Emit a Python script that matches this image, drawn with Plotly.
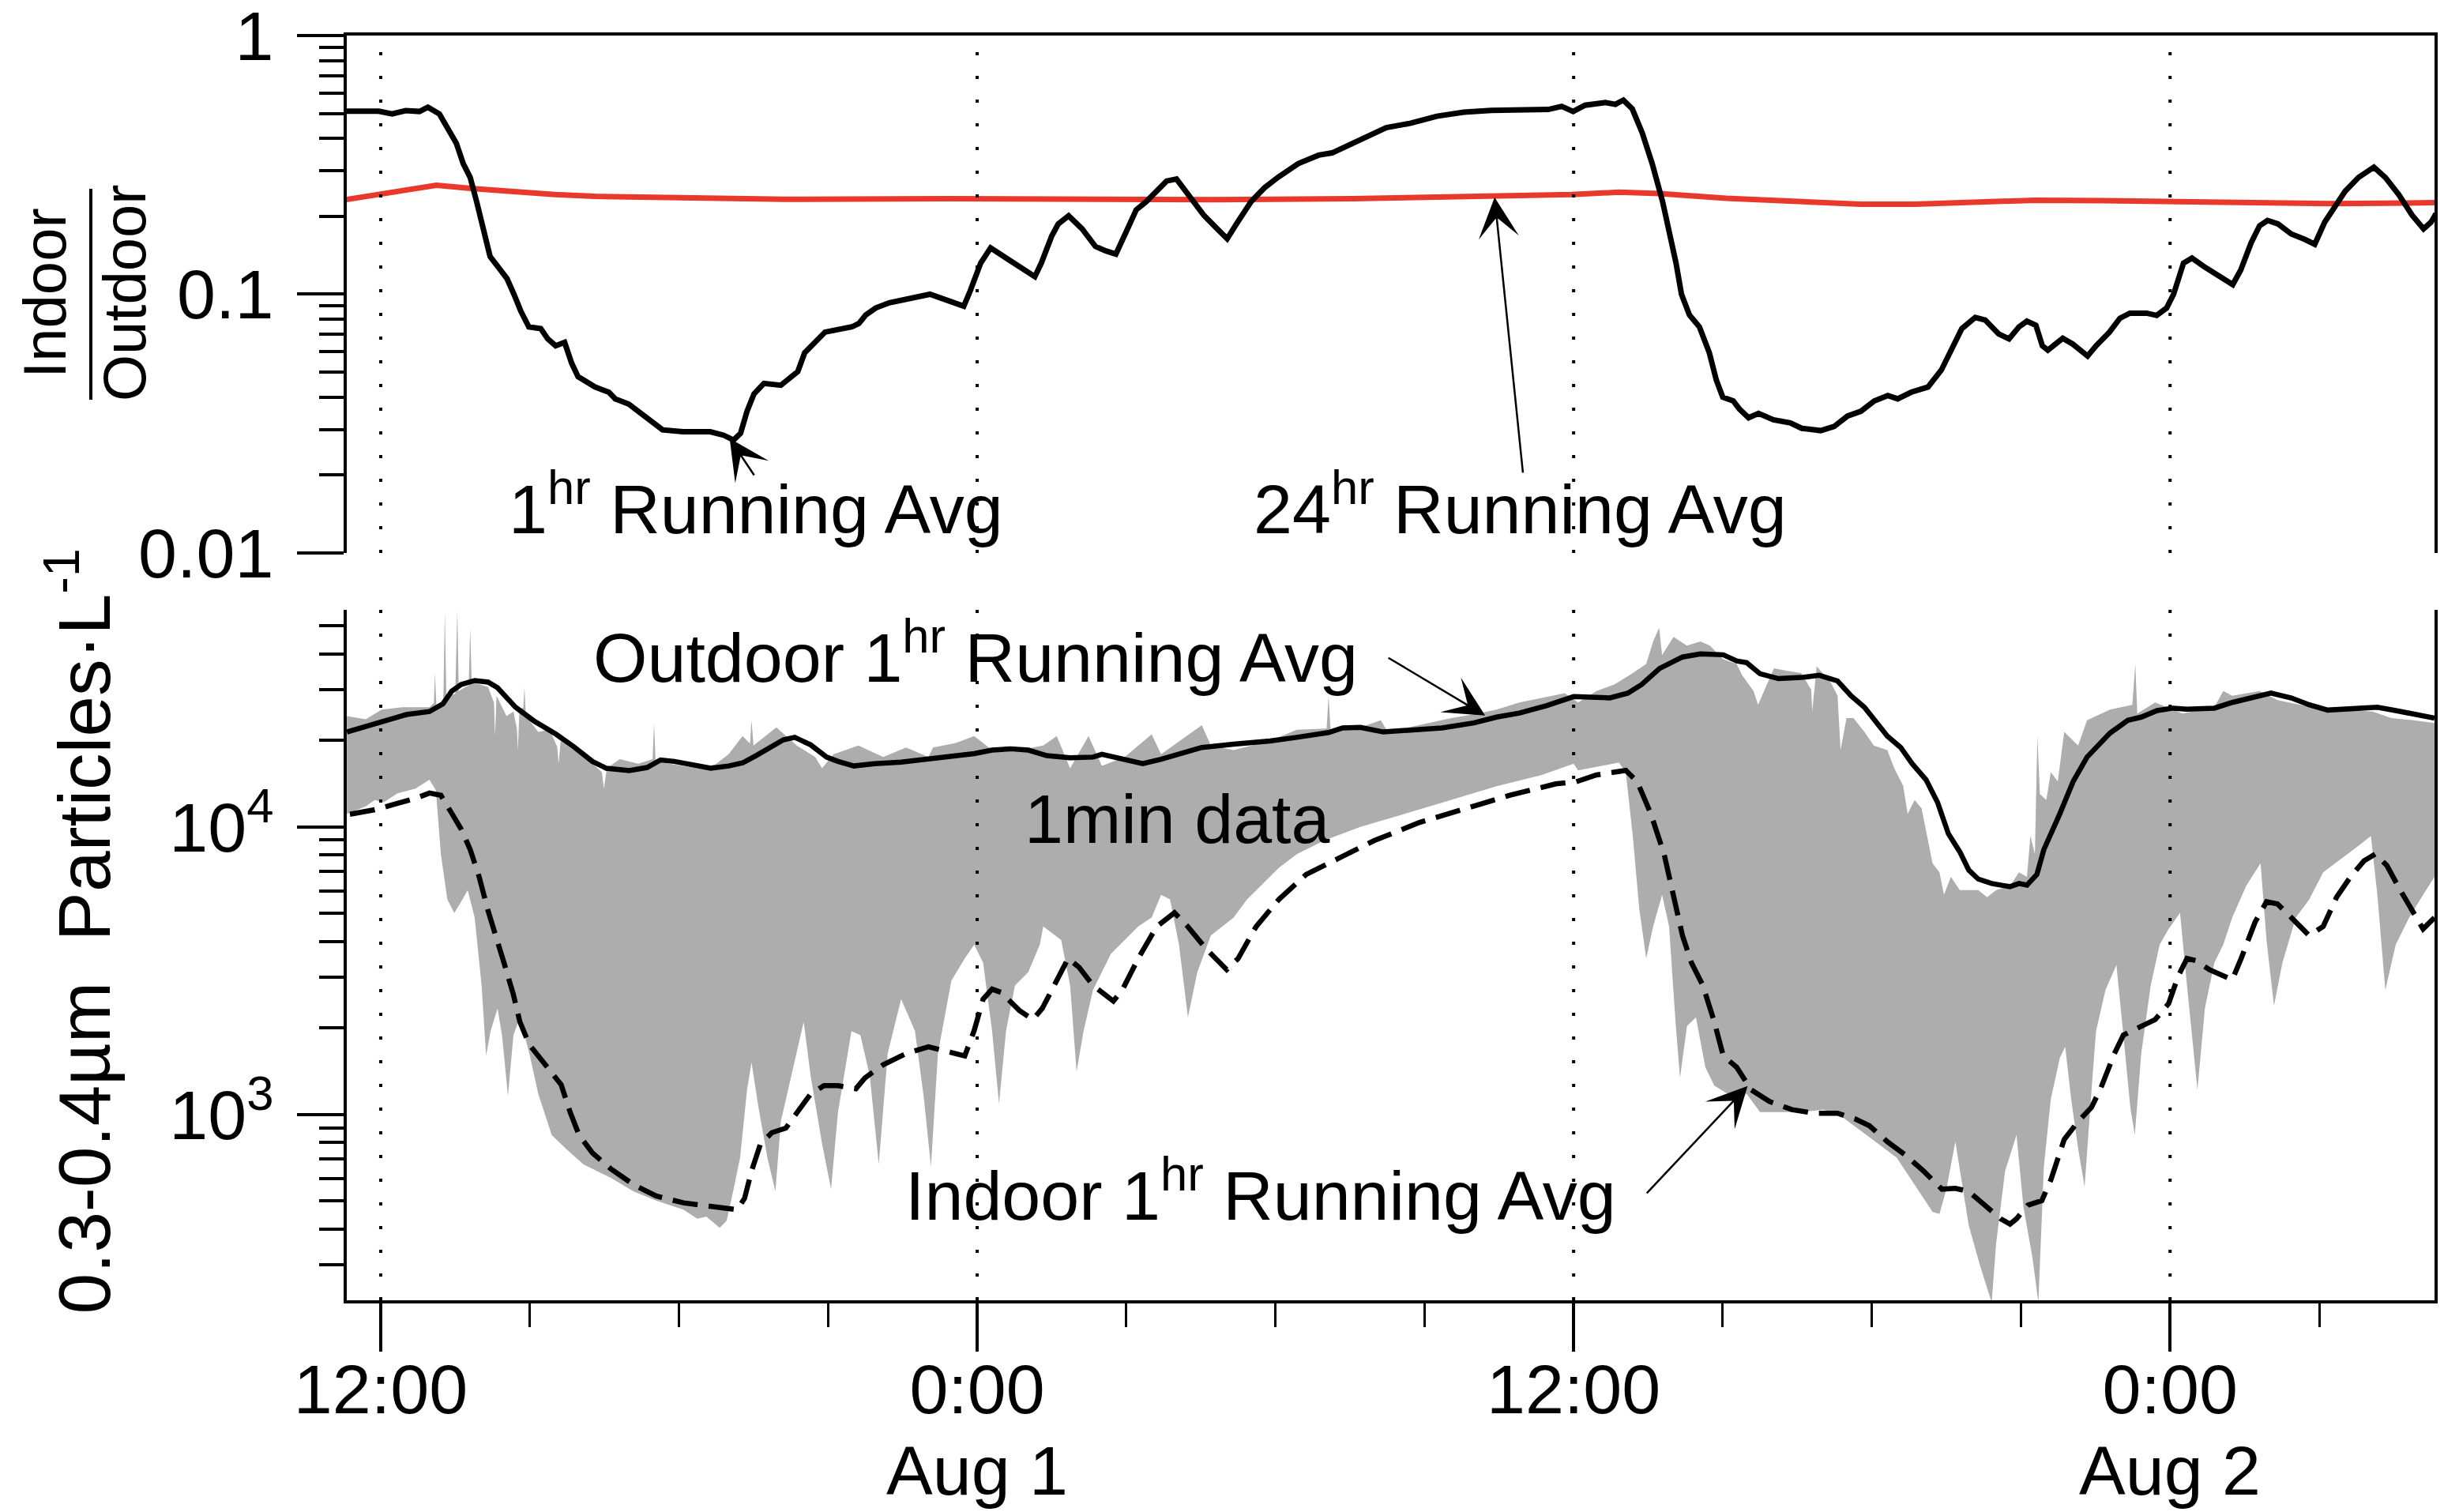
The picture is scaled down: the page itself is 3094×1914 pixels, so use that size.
import numpy as np
import plotly.graph_objects as go
from datetime import datetime, timedelta

# ---------------------------------------------------------------------------
# Data: time is given in hours after 31 Jul 00:00
# ---------------------------------------------------------------------------
T0 = datetime(2012, 7, 31)

# Indoor/Outdoor ratio, 1 hr running average
RATIO_1H = [
    (11.28, 0.510), (11.96, 0.510), (12.23, 0.498), (12.50, 0.513), (12.78, 0.509),
    (12.95, 0.529), (13.18, 0.498), (13.32, 0.448), (13.52, 0.384), (13.66, 0.320),
    (13.80, 0.283), (13.93, 0.228), (14.07, 0.173), (14.20, 0.140), (14.41, 0.124),
    (14.54, 0.115), (14.68, 0.100), (14.82, 0.0859), (14.98, 0.0748), (15.22, 0.0736),
    (15.36, 0.0672), (15.52, 0.0632), (15.70, 0.0652), (15.84, 0.0542), (15.97, 0.0480),
    (16.31, 0.0438), (16.59, 0.0418), (16.72, 0.0394), (16.99, 0.0376), (17.27, 0.0343),
    (17.54, 0.0313), (17.67, 0.0299), (18.08, 0.0294), (18.63, 0.0294), (18.90, 0.0285),
    (19.10, 0.0273), (19.24, 0.0290), (19.37, 0.0353), (19.51, 0.0412), (19.71, 0.0452),
    (20.05, 0.0445), (20.19, 0.0466), (20.39, 0.0502), (20.53, 0.0594), (20.73, 0.0652),
    (20.94, 0.0714), (21.48, 0.0748), (21.62, 0.0771), (21.76, 0.0832), (21.96, 0.0885),
    (22.23, 0.0927), (22.71, 0.0970), (23.05, 0.100), (23.25, 0.0970), (23.52, 0.0927),
    (23.73, 0.0899), (23.86, 0.103), (24.07, 0.132), (24.27, 0.151), (24.54, 0.140),
    (24.88, 0.126), (25.16, 0.117), (25.29, 0.132), (25.50, 0.168), (25.63, 0.187),
    (25.84, 0.201), (26.11, 0.179), (26.38, 0.153), (26.59, 0.147), (26.79, 0.143),
    (26.99, 0.173), (27.20, 0.212), (27.40, 0.228), (27.61, 0.250), (27.81, 0.274),
    (28.01, 0.279), (28.29, 0.235), (28.56, 0.202), (28.83, 0.179), (29.03, 0.164),
    (29.24, 0.190), (29.51, 0.228), (29.78, 0.258), (30.05, 0.283), (30.46, 0.320),
    (30.87, 0.345), (31.14, 0.352), (31.55, 0.384), (31.96, 0.415), (32.23, 0.441),
    (32.71, 0.458), (33.25, 0.488), (33.79, 0.506), (34.34, 0.514), (35.49, 0.518),
    (35.76, 0.533), (35.99, 0.509), (36.23, 0.538), (36.64, 0.551), (36.84, 0.542),
    (37.00, 0.563), (37.18, 0.521), (37.38, 0.421), (37.58, 0.320), (37.79, 0.228),
    (37.92, 0.179), (38.06, 0.132), (38.17, 0.100), (38.33, 0.0832), (38.53, 0.0748),
    (38.73, 0.0594), (38.87, 0.0466), (39.00, 0.0400), (39.21, 0.0387), (39.34, 0.0359),
    (39.52, 0.0333), (39.72, 0.0346), (40.02, 0.0327), (40.36, 0.0318), (40.59, 0.0303),
    (40.97, 0.0297), (41.24, 0.0308), (41.51, 0.0338), (41.78, 0.0353), (42.05, 0.0387),
    (42.32, 0.0406), (42.52, 0.0394), (42.79, 0.0418), (43.13, 0.0438), (43.40, 0.0510),
    (43.60, 0.0614), (43.81, 0.0736), (44.08, 0.0813), (44.28, 0.0795), (44.55, 0.0703),
    (44.76, 0.0672), (44.96, 0.0748), (45.12, 0.0787), (45.30, 0.0759), (45.43, 0.0632),
    (45.54, 0.0608), (45.70, 0.0642), (45.84, 0.0676), (46.04, 0.0642), (46.34, 0.0577),
    (46.51, 0.0632), (46.78, 0.0714), (46.99, 0.0807), (47.19, 0.0845), (47.53, 0.0845),
    (47.73, 0.0828), (47.93, 0.0885), (48.07, 0.100), (48.27, 0.132), (48.44, 0.138),
    (48.68, 0.128), (49.02, 0.117), (49.26, 0.109), (49.42, 0.124), (49.63, 0.158),
    (49.80, 0.184), (49.96, 0.193), (50.17, 0.187), (50.44, 0.171), (50.71, 0.163),
    (50.91, 0.156), (51.11, 0.190), (51.32, 0.221), (51.52, 0.250), (51.79, 0.283),
    (52.10, 0.310), (52.33, 0.283), (52.60, 0.243), (52.87, 0.202), (53.10, 0.179),
    (53.25, 0.190), (53.35, 0.205),
]

# Indoor/Outdoor ratio, 24 hr running average
RATIO_24H = [
    (11.28, 0.232), (11.96, 0.243), (12.50, 0.252), (13.12, 0.264), (13.86, 0.256),
    (14.68, 0.249), (15.50, 0.243), (16.31, 0.239), (18.22, 0.237), (20.12, 0.233),
    (23.39, 0.234), (26.11, 0.233), (28.83, 0.232), (31.55, 0.234), (34.34, 0.239),
    (35.96, 0.243), (36.91, 0.248), (37.72, 0.245), (39.07, 0.235), (40.42, 0.228),
    (41.78, 0.223), (42.86, 0.223), (44.21, 0.228), (45.30, 0.231), (46.65, 0.230),
    (48.27, 0.227), (49.90, 0.224), (51.25, 0.224), (53.35, 0.226),
]

# Outdoor 0.3-0.4 um particles per litre, 1 hr running average
OUTDOOR_1H = [
    (11.32, 21400), (11.70, 22400), (12.06, 23500), (12.52, 24600), (12.98, 25200),
    (13.25, 26800), (13.43, 29700), (13.62, 31300), (13.89, 32300), (14.16, 31900),
    (14.35, 30500), (14.53, 28100), (14.71, 26100), (15.08, 23400), (15.53, 21000),
    (15.90, 18900), (16.26, 16900), (16.54, 16000), (17.00, 15700), (17.36, 16100),
    (17.63, 17100), (17.91, 16900), (18.27, 16400), (18.64, 16000), (19.00, 16300),
    (19.28, 16700), (19.55, 17700), (19.83, 18900), (20.10, 20100), (20.33, 20500),
    (20.65, 19300), (20.97, 17500), (21.20, 16900), (21.52, 16300), (21.93, 16600),
    (22.47, 16800), (23.02, 17200), (23.48, 17700), (23.94, 18000), (24.30, 18500),
    (24.67, 18700), (25.03, 18500), (25.40, 17700), (25.87, 17400), (26.33, 17500),
    (26.51, 17900), (26.78, 17400), (27.33, 16600), (27.70, 17200), (28.06, 17900),
    (28.52, 18900), (29.16, 19400), (29.89, 19900), (30.43, 20500), (31.07, 21300),
    (31.35, 22100), (31.71, 22200), (32.17, 21400), (32.62, 21600), (33.35, 22100),
    (33.99, 23000), (34.45, 24100), (34.91, 24900), (35.45, 26400), (36.00, 28400),
    (36.73, 28100), (37.09, 29200), (37.37, 31300), (37.73, 35600), (38.19, 39000),
    (38.55, 40000), (39.01, 39700), (39.28, 37800), (39.48, 37300), (39.75, 34100),
    (40.12, 32800), (40.58, 33100), (40.94, 33700), (41.31, 32200), (41.58, 28600),
    (41.85, 26100), (42.04, 23700), (42.31, 20700), (42.58, 18900), (42.81, 16600),
    (43.09, 14600), (43.32, 12200), (43.54, 9470), (43.77, 8190), (43.95, 7080),
    (44.14, 6590), (44.41, 6360), (44.78, 6200), (44.96, 6360), (45.12, 6280),
    (45.32, 6840), (45.46, 8340), (45.78, 11100), (46.05, 14400), (46.33, 17500),
    (46.79, 21200), (47.15, 23500), (47.42, 24100), (47.74, 25400), (48.06, 25900),
    (48.34, 25700), (48.89, 25900), (49.25, 27100), (49.71, 28300), (50.03, 29200),
    (50.44, 28100), (50.80, 26600), (51.17, 25500), (51.53, 25700), (52.17, 26100),
    (52.54, 25400), (52.90, 24600), (53.32, 23900),
]

# Indoor 0.3-0.4 um particles per litre, 1 hr running average
INDOOR_1H = [
    (11.38, 11070), (11.88, 11480), (12.34, 12080), (12.70, 12570), (12.98, 13120),
    (13.21, 12890), (13.43, 11150), (13.62, 9820), (13.80, 8340), (13.98, 6710),
    (14.16, 5110), (14.30, 4190), (14.48, 3370), (14.67, 2610), (14.80, 2100),
    (14.99, 1750), (15.21, 1570), (15.44, 1390), (15.63, 1270), (15.81, 1020),
    (15.99, 849), (16.26, 735), (16.63, 647), (17.09, 570), (17.54, 521),
    (18.09, 493), (18.46, 484), (18.91, 476), (19.17, 467), (19.32, 511),
    (19.46, 636), (19.64, 790), (19.87, 865), (20.15, 897), (20.37, 1020),
    (20.65, 1180), (20.92, 1260), (21.20, 1260), (21.56, 1230), (21.74, 1340),
    (22.11, 1490), (22.57, 1630), (23.02, 1720), (23.39, 1660), (23.75, 1600),
    (23.94, 1960), (24.12, 2520), (24.30, 2730), (24.48, 2660), (24.85, 2300),
    (25.12, 2140), (25.31, 2340), (25.60, 2920), (25.83, 3490), (26.05, 3250),
    (26.33, 2810), (26.74, 2480), (26.92, 2710), (27.24, 3490), (27.61, 4500),
    (27.97, 5030), (28.24, 4500), (28.61, 3760), (29.02, 3190), (29.25, 3490),
    (29.61, 4500), (30.07, 5600), (30.62, 6840), (31.26, 7760), (31.99, 8970),
    (32.90, 10370), (33.81, 11560), (34.72, 12890), (35.64, 14120), (36.05, 14360),
    (36.46, 15170), (36.82, 15560), (37.05, 15730), (37.28, 14360), (37.55, 11150),
    (37.82, 8050), (38.01, 5810), (38.19, 4190), (38.37, 3370), (38.60, 2810),
    (38.83, 2100), (39.01, 1600), (39.28, 1460), (39.47, 1310), (39.57, 1220),
    (39.94, 1110), (40.39, 1040), (40.85, 1010), (41.31, 1010), (41.67, 964),
    (41.95, 914), (42.31, 805), (42.68, 722), (43.04, 636), (43.41, 550),
    (43.68, 554), (43.95, 540), (44.32, 476), (44.59, 434), (44.78, 416),
    (44.91, 434), (45.14, 484), (45.42, 502), (45.60, 592), (45.87, 819),
    (46.15, 946), (46.42, 1060), (46.61, 1240), (46.88, 1630), (47.06, 1890),
    (47.42, 2030), (47.70, 2140), (47.97, 2430), (48.16, 3020), (48.34, 3490),
    (48.52, 3430), (48.79, 3190), (49.07, 3020), (49.25, 2940), (49.43, 3490),
    (49.71, 4670), (49.94, 5500), (50.16, 5400), (50.44, 4840), (50.80, 4190),
    (51.08, 4510), (51.35, 5700), (51.63, 6710), (51.90, 7620), (52.13, 8050),
    (52.36, 7350), (52.63, 6030), (52.90, 5020), (53.09, 4420), (53.32, 4840),
]

# 1 min data: upper edge of the band (outdoor readings)
RAW_HIGH = [
    (11.32, 24300), (11.70, 23700), (12.02, 25600), (12.43, 26100), (12.98, 26100),
    (13.07, 27000), (13.09, 34300), (13.12, 26600), (13.26, 27500), (13.29, 56000),
    (13.32, 28600), (13.50, 29000), (13.54, 57000), (13.57, 29700), (13.71, 30700),
    (13.77, 31000), (13.80, 49300), (13.83, 31900), (14.16, 30700), (14.28, 27000),
    (14.30, 20700), (14.33, 28600), (14.53, 24300), (14.67, 25200), (14.74, 22000),
    (14.76, 18500), (14.79, 25600), (14.87, 26000), (14.89, 30700), (14.92, 24300),
    (15.17, 21400), (15.40, 21800), (15.55, 19000), (15.58, 16600), (15.62, 19900),
    (16.26, 16600), (16.45, 15500), (16.49, 13600), (16.55, 16000), (16.81, 17200),
    (17.18, 16600), (17.47, 17200), (17.50, 23000), (17.53, 16900), (18.37, 16000),
    (18.73, 16500), (19.00, 17900), (19.28, 20700), (19.43, 19500), (19.46, 23500),
    (19.50, 19200), (19.83, 21400), (19.96, 22200), (20.37, 19200), (20.74, 17500),
    (20.88, 16000), (21.11, 17900), (21.61, 19200), (22.11, 17500), (22.57, 18900),
    (23.02, 17500), (23.11, 18900), (23.57, 19600), (23.94, 20700), (24.30, 18500),
    (24.85, 18500), (25.33, 19200), (25.60, 20700), (25.87, 16000), (26.24, 20700),
    (26.51, 16300), (26.97, 17500), (27.51, 21000), (27.70, 17900), (28.34, 21400),
    (28.52, 22600), (28.70, 19200), (29.16, 18500), (29.89, 19900), (30.43, 21800),
    (31.03, 22000), (31.07, 28600), (31.11, 21800), (31.71, 22200), (32.12, 23500),
    (32.26, 21400), (33.08, 23000), (33.54, 23900), (34.08, 24800), (34.45, 25600),
    (34.91, 27100), (35.36, 28100), (35.82, 29200), (36.09, 27100), (36.46, 29700),
    (36.82, 31300), (37.19, 34300), (37.46, 36900), (37.60, 44200), (37.72, 49300),
    (37.78, 39600), (38.01, 45800), (38.28, 42700), (38.55, 44200), (38.74, 42700),
    (39.01, 38300), (39.28, 36900), (39.39, 33700), (39.62, 29700), (39.71, 26600),
    (40.03, 35600), (40.30, 34900), (40.58, 34300), (40.78, 30000), (40.80, 25200),
    (40.89, 36200), (41.17, 31900), (41.31, 28600), (41.37, 18500), (41.49, 23900),
    (41.63, 23900), (41.85, 21400), (42.04, 19200), (42.31, 18500), (42.45, 16000),
    (42.63, 13900), (42.72, 11100), (42.86, 12400), (43.00, 11600), (43.13, 8970),
    (43.22, 7480), (43.36, 6960), (43.45, 5810), (43.59, 6710), (43.77, 6030),
    (44.14, 6030), (44.32, 5700), (44.50, 6030), (44.78, 6240), (44.96, 6960),
    (45.12, 6710), (45.19, 9310), (45.28, 8050), (45.33, 20700), (45.38, 13000),
    (45.51, 12400), (45.60, 15500), (45.74, 14400), (45.87, 21400), (46.15, 19200),
    (46.33, 23500), (46.79, 25600), (47.24, 26600), (47.30, 36900), (47.34, 24800),
    (47.70, 27100), (48.25, 24800), (48.89, 26100), (49.07, 29700), (49.25, 28600),
    (49.80, 29700), (50.16, 27600), (50.62, 26600), (51.08, 25600), (51.53, 25600),
    (52.08, 25200), (52.45, 23900), (52.90, 23500), (53.32, 23000),
]

# 1 min data: lower edge of the band (indoor readings)
RAW_LOW = [
    (11.32, 11100), (11.70, 11800), (11.88, 12400), (12.06, 12200), (12.34, 13100),
    (12.70, 13600), (12.98, 14600), (13.11, 13400), (13.21, 8050), (13.34, 5600),
    (13.48, 5020), (13.62, 5500), (13.75, 6030), (13.89, 4840), (14.03, 2810),
    (14.12, 1600), (14.21, 1950), (14.35, 2340), (14.44, 1890), (14.56, 1160),
    (14.67, 1890), (14.80, 2180), (14.99, 1630), (15.17, 1180), (15.44, 849),
    (15.72, 762), (16.08, 671), (16.63, 602), (17.09, 540), (17.54, 502),
    (18.09, 467), (18.37, 434), (18.55, 442), (18.82, 404), (18.96, 427),
    (19.10, 550), (19.23, 708), (19.37, 1220), (19.46, 1520), (19.60, 1060),
    (19.78, 708), (19.94, 540), (20.05, 946), (20.28, 1410), (20.51, 2100),
    (20.65, 1360), (20.88, 790), (21.06, 550), (21.20, 1020), (21.47, 1950),
    (21.65, 1890), (21.84, 1360), (22.02, 671), (22.20, 1630), (22.47, 2520),
    (22.75, 1950), (22.93, 1130), (23.07, 659), (23.21, 1630), (23.48, 2920),
    (23.75, 3490), (23.94, 3900), (24.12, 3370), (24.30, 1950), (24.44, 1090),
    (24.58, 1950), (24.76, 2810), (25.03, 3130), (25.26, 3900), (25.33, 4510),
    (25.69, 4040), (25.87, 2810), (26.00, 1410), (26.14, 1950), (26.33, 2710),
    (26.69, 3620), (27.24, 4510), (27.51, 4840), (27.70, 5810), (27.88, 5600),
    (28.06, 3900), (28.24, 2180), (28.43, 3130), (28.70, 4190), (29.16, 4840),
    (29.43, 5600), (29.70, 6240), (30.07, 7210), (30.43, 8050), (30.98, 8970),
    (31.71, 10000), (32.62, 11150), (33.54, 12420), (34.45, 13860), (35.36, 15170),
    (36.00, 16600), (36.09, 15730), (36.91, 16750), (37.05, 15450), (37.19, 9310),
    (37.32, 5210), (37.46, 3490), (37.60, 4510), (37.78, 5810), (37.92, 4510),
    (38.05, 2100), (38.14, 1340), (38.28, 2030), (38.46, 2180), (38.65, 1460),
    (38.83, 1260), (39.10, 1180), (39.38, 1180), (39.48, 1180), (39.75, 1020),
    (40.58, 1020), (41.03, 1040), (41.40, 982), (41.76, 881), (42.13, 790),
    (42.50, 708), (42.86, 570), (43.22, 459), (43.36, 451), (43.50, 550),
    (43.68, 805), (43.82, 570), (43.95, 411), (44.18, 297), (44.41, 222),
    (44.50, 356), (44.68, 636), (44.91, 849), (45.05, 476), (45.23, 319),
    (45.35, 222), (45.46, 659), (45.60, 1130), (45.78, 1570), (45.89, 1720),
    (46.01, 1130), (46.15, 762), (46.28, 560), (46.42, 1220), (46.51, 1950),
    (46.70, 2710), (46.92, 3310), (47.06, 1890), (47.20, 1060), (47.29, 849),
    (47.42, 1630), (47.61, 2810), (47.79, 3900), (47.97, 4420), (48.20, 5030),
    (48.34, 2810), (48.55, 1220), (48.70, 2340), (48.89, 3370), (49.07, 3900),
    (49.25, 4840), (49.53, 6240), (49.82, 7480), (49.94, 4040), (50.09, 2390),
    (50.26, 3370), (50.53, 4840), (50.80, 5600), (51.08, 6960), (51.44, 7760),
    (51.81, 8650), (52.04, 9310), (52.17, 5810), (52.33, 2710), (52.54, 3900),
    (52.81, 4840), (53.09, 5810), (53.32, 6710),
]

# Axis ticks (hours after 31 Jul 00:00)
MAJOR_HOURS = [12, 24, 36, 48]
MAJOR_TEXT = ["12:00", "0:00", "12:00", "0:00"]
DAY_HOURS = [24, 48]
DAY_TEXT = ["Aug 1", "Aug 2"]
MINOR_HOURS = [15, 18, 21, 27, 30, 33, 39, 42, 45, 51]
X_RANGE_HOURS = [11.317, 53.32]

RATIO_TICKS = [0.01, 0.1, 1]
RATIO_TICKTEXT = ["0.01", "0.1", "1"]
RATIO_RANGE_LOG = [-2.0003, 0.0003]
COUNT_TICKS = [1000, 10000]
COUNT_TICKTEXT = ["10<sup>3</sup>", "10<sup>4</sup>"]
COUNT_RANGE_LOG = [2.354, 4.755]


def at(h):
    return T0 + timedelta(hours=h)


def split(pairs):
    return [at(p[0]) for p in pairs], [p[1] for p in pairs]


FONT = "Liberation Sans, Arial, Helvetica, sans-serif"
BLACK = "#000000"
RED = "#e8392c"
GRAY = "#adadad"

fig = go.Figure()

# --- 1 min band between the indoor and outdoor readings
hi_t, hi_v = split(RAW_HIGH)
lo_t, lo_v = split(RAW_LOW)
fig.add_trace(go.Scatter(
    x=hi_t + lo_t[::-1], y=hi_v + lo_v[::-1],
    fill="toself", fillcolor=GRAY, mode="lines", line=dict(width=0, color=GRAY),
    xaxis="x", yaxis="y", hoverinfo="skip", showlegend=False,
))

# --- running averages of the counts
t, v = split(OUTDOOR_1H)
fig.add_trace(go.Scatter(x=t, y=v, mode="lines", line=dict(color=BLACK, width=6.5),
                         xaxis="x", yaxis="y", showlegend=False))
t, v = split(INDOOR_1H)
fig.add_trace(go.Scatter(x=t, y=v, mode="lines",
                         line=dict(color=BLACK, width=6.5, dash="32px,14px"),
                         xaxis="x", yaxis="y", showlegend=False))

# --- Indoor/Outdoor ratio
t, v = split(RATIO_24H)
fig.add_trace(go.Scatter(x=t, y=v, mode="lines", line=dict(color=RED, width=7),
                         xaxis="x2", yaxis="y2", showlegend=False))
t, v = split(RATIO_1H)
fig.add_trace(go.Scatter(x=t, y=v, mode="lines", line=dict(color=BLACK, width=7),
                         xaxis="x2", yaxis="y2", showlegend=False))

x_range = [at(h) for h in X_RANGE_HOURS]
major_x = [at(h) for h in MAJOR_HOURS]
minor_x = [at(h) for h in MINOR_HOURS]

tick_font = dict(family=FONT, size=88, color=BLACK)


def log_minors(decades):
    return [m * 10 ** d for d in decades for m in range(2, 10)]


fig.update_layout(
    width=3094, height=1914,
    margin=dict(l=439, r=12, t=45, b=268, autoexpand=False),
    paper_bgcolor="white", plot_bgcolor="white",
    font=dict(family=FONT, color=BLACK, size=88),
    xaxis=dict(
        domain=[0, 1], anchor="y", type="date", range=x_range, automargin=False,
        tickmode="array", tickvals=major_x, ticktext=MAJOR_TEXT,
        ticks="outside", ticklen=61, tickwidth=4, tickcolor=BLACK,
        showline=True, linewidth=4, linecolor=BLACK, showgrid=False,
        zeroline=False, tickfont=tick_font, ticklabelstandoff=-28,
        minor=dict(tickmode="array", tickvals=minor_x, ticks="outside",
                   ticklen=30, tickwidth=3, tickcolor=BLACK, showgrid=False),
    ),
    yaxis=dict(
        domain=[0, 0.5459], anchor="x", type="log", range=COUNT_RANGE_LOG,
        automargin=False,
        tickmode="array", tickvals=COUNT_TICKS, ticktext=COUNT_TICKTEXT,
        ticks="outside", ticklen=59, tickwidth=4, tickcolor=BLACK,
        showline=True, linewidth=4, linecolor=BLACK, mirror=True,
        showgrid=False, zeroline=False, tickfont=tick_font, ticklabelstandoff=12,
        minor=dict(tickmode="array", tickvals=log_minors([2, 3, 4]), ticks="outside",
                   ticklen=31, tickwidth=4, tickcolor=BLACK, showgrid=False),
    ),
    xaxis2=dict(
        domain=[0, 1], anchor="y2", type="date", range=x_range, matches="x",
        automargin=False,
        side="top", showline=True, linewidth=4, linecolor=BLACK,
        ticks="", showticklabels=False, showgrid=False, zeroline=False,
    ),
    yaxis2=dict(
        domain=[0.5909, 1], anchor="x2", type="log", range=RATIO_RANGE_LOG,
        automargin=False, ticklabeloverflow="allow",
        tickmode="array", tickvals=RATIO_TICKS, ticktext=RATIO_TICKTEXT,
        ticks="outside", ticklen=59, tickwidth=4, tickcolor=BLACK,
        showline=True, linewidth=4, linecolor=BLACK, mirror=True,
        showgrid=False, zeroline=False, tickfont=tick_font, ticklabelstandoff=12,
        minor=dict(tickmode="array", tickvals=log_minors([-2, -1]), ticks="outside",
                   ticklen=31, tickwidth=4, tickcolor=BLACK, showgrid=False),
    ),
)

# --- dotted grid drawn over the data
grid = dict(color=BLACK, width=4, dash="4px,26px")
shapes = []
for xv in major_x:
    shapes.append(dict(type="line", layer="above", xref="x", yref="y domain",
                       x0=xv, x1=xv, y0=0, y1=1, line=grid))
    shapes.append(dict(type="line", layer="above", xref="x2", yref="y2 domain",
                       x0=xv, x1=xv, y0=0, y1=1, line=grid))
for yv in COUNT_TICKS:
    shapes.append(dict(type="line", layer="above", xref="x domain", yref="y",
                       x0=0, x1=1, y0=np.log10(yv), y1=np.log10(yv), line=grid))
for yv in RATIO_TICKS[:2]:
    shapes.append(dict(type="line", layer="above", xref="x2 domain", yref="y2",
                       x0=0, x1=1, y0=np.log10(yv), y1=np.log10(yv), line=grid))
# fraction bar of the ratio axis title
shapes.append(dict(type="line", xref="paper", yref="paper",
                   x0=-0.1226, x1=-0.1226, y0=0.7121, y1=0.8788,
                   line=dict(color=BLACK, width=4)))
fig.update_layout(shapes=shapes)

label_font = dict(family=FONT, size=88, color=BLACK)
arrow = dict(showarrow=True, arrowhead=3, arrowsize=3.4, arrowwidth=2.5,
             arrowcolor=BLACK, text="", axref="pixel", ayref="pixel")

annotations = [
    # ratio axis title
    dict(text="Indoor", xref="paper", yref="paper", x=-0.1446, y=0.7964,
         textangle=-90, showarrow=False, xanchor="center", yanchor="middle",
         font=dict(family=FONT, size=76, color=BLACK)),
    dict(text="Outdoor", xref="paper", yref="paper", x=-0.1063, y=0.7964,
         textangle=-90, showarrow=False, xanchor="center", yanchor="middle",
         font=dict(family=FONT, size=76, color=BLACK)),
    # count axis title
    dict(text="0.3-0.4µm  Particles·L<sup>-1</sup>", xref="paper", yref="paper",
         x=-0.1283, y=0.292, textangle=-90, showarrow=False,
         xanchor="center", yanchor="middle",
         font=dict(family=FONT, size=93, color=BLACK)),
    # labels inside the panels
    dict(text="1<sup>hr</sup> Running Avg", xref="x2", yref="y2",
         x=at(19.55), y=np.log10(0.0155), showarrow=False, font=label_font),
    dict(text="24<sup>hr</sup> Running Avg", xref="x2", yref="y2",
         x=at(34.92), y=np.log10(0.0155), showarrow=False, font=label_font),
    dict(text="Outdoor 1<sup>hr</sup> Running Avg", xref="x", yref="y",
         x=at(23.97), y=np.log10(40500), showarrow=False, font=label_font),
    dict(text="1min data", xref="x", yref="y",
         x=at(28.02), y=np.log10(10700), showarrow=False, font=label_font),
    dict(text="Indoor 1<sup>hr</sup> Running Avg", xref="x", yref="y",
         x=at(29.70), y=np.log10(545), showarrow=False, font=label_font),
    # arrows
    dict(arrow, xref="x2", yref="y2", x=at(19.02), y=np.log10(0.0277), ax=32, ay=48),
    dict(arrow, xref="x2", yref="y2", x=at(34.41), y=np.log10(0.237), ax=36, ay=350),
    dict(arrow, xref="x", yref="y", x=at(34.22), y=np.log10(24400), ax=-124, ay=-74),
    dict(arrow, xref="x", yref="y", x=at(39.50), y=np.log10(1256), ax=-129, ay=137),
]
# date line under the midnight ticks
for h, txt in zip(DAY_HOURS, DAY_TEXT):
    annotations.append(dict(text=txt, xref="x", yref="paper", x=at(h), y=-0.1343,
                            xanchor="center", yanchor="middle", showarrow=False,
                            font=tick_font))
fig.update_layout(annotations=annotations)

fig.write_html("out.html")
